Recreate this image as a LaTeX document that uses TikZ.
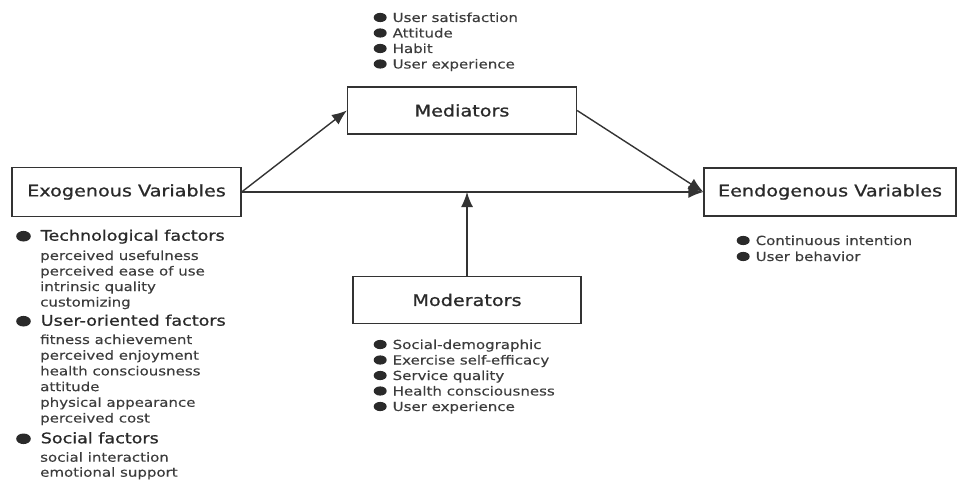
\documentclass[tikz,border=0pt]{standalone}
\usepackage{fontspec}
\setmainfont[FakeStretch=1.2,FakeBold=0.25]{DejaVu Sans}
\newfontfamily\medfont[FakeStretch=1.2,FakeBold=0.9]{DejaVu Sans}
\usetikzlibrary{positioning,arrows.meta}

\definecolor{linegray}{HTML}{333333}
\definecolor{textgray}{HTML}{2A2A2A}
\definecolor{itemgray}{HTML}{3C3C3C}
\newcommand{\blt}[1][6.5pt and 4.6pt]{\tikz[baseline=-4.5pt]\fill[textgray] (0,0) ellipse (#1);}

\begin{document}
\begin{tikzpicture}[x=1pt,y=-1pt,
    box/.style={draw=linegray,line width=1.3pt,inner sep=0pt,text=textgray,
      font=\medfont\fontsize{16}{19}\selectfont},
    arr/.style={draw=linegray,line width=1.4pt,-{Latex[length=15pt,width=12pt]}},
    item/.style={anchor=base west,inner sep=0pt,text=itemgray,
      font=\fontsize{12.5}{15}\selectfont},
    head/.style={anchor=base west,inner sep=0pt,text=textgray,
      font=\medfont\fontsize{14.6}{17}\selectfont}]
    \useasboundingbox (0,0) rectangle (963,481);

    % the four boxes
    \node[box,minimum width=229pt,minimum height=49pt] (exo) at (126.5,192) {Exogenous Variables};
    \node[box,minimum width=229pt,minimum height=47pt] (med) at (462,110.5) {Mediators};
    \node[box,minimum width=252pt,minimum height=48pt] (endo) at (830,192) {Eendogenous Variables};
    \node[box,minimum width=228pt,minimum height=47pt] (mod) at (467,300) {Moderators};

    % connectors
    \coordinate (meet) at (mod.north |- exo.east);
    \draw[arr] (exo.east) -- (med.west);
    \draw[arr] (med.east) -- (endo.west);
    \draw[arr] (exo.east) -- (endo.west);
    \draw[arr] (mod.north) -- (meet);

    % bullet lists of the boxes
    \foreach \t [count=\i, evaluate=\i as \y using 22+15.5*(\i-1)] in
      {User satisfaction, Attitude, Habit, User experience}
      \node[item] (med\i) at (373.5,\y) {\blt\hspace{6pt}\t};
    \foreach \t [count=\i, evaluate=\i as \y using 349+15.5*(\i-1)] in
      {Social-demographic, Exercise self-efficacy, Service quality,
       Health consciousness, User experience}
      \node[item] (mod\i) at (373.5,\y) {\blt\hspace{6pt}\t};
    \foreach \t [count=\i, evaluate=\i as \y using 245+16*(\i-1)] in
      {Continuous intention, User behavior}
      \node[item] (endo\i) at (736.5,\y) {\blt\hspace{6pt}\t};

    % factors under the exogenous variables
    \node[head] (tech) at (16,240.7) {\blt[7.3pt and 5.3pt]\hspace{10pt}Technological factors};
    \foreach \t [count=\i, evaluate=\i as \y using 260+15.5*(\i-1)] in
      {perceived usefulness, perceived ease of use, intrinsic quality, customizing}
      \node[item] (tech\i) at (40,\y) {\t};
    \node[head] (user) at (16,325.7) {\blt[7.3pt and 5.3pt]\hspace{10pt}User-oriented factors};
    \foreach \t [count=\i, evaluate=\i as \y using 344+15.7*(\i-1)] in
      {fitness achievement, perceived enjoyment, health consciousness,
       attitude, physical appearance, perceived cost}
      \node[item] (user\i) at (40,\y) {\t};
    \node[head] (social) at (16,443.3) {\blt[7.3pt and 5.3pt]\hspace{10pt}Social factors};
    \foreach \t [count=\i, evaluate=\i as \y using 461.7+15*(\i-1)] in
      {social interaction, emotional support}
      \node[item] (social\i) at (40,\y) {\t};
\end{tikzpicture}
\end{document}
